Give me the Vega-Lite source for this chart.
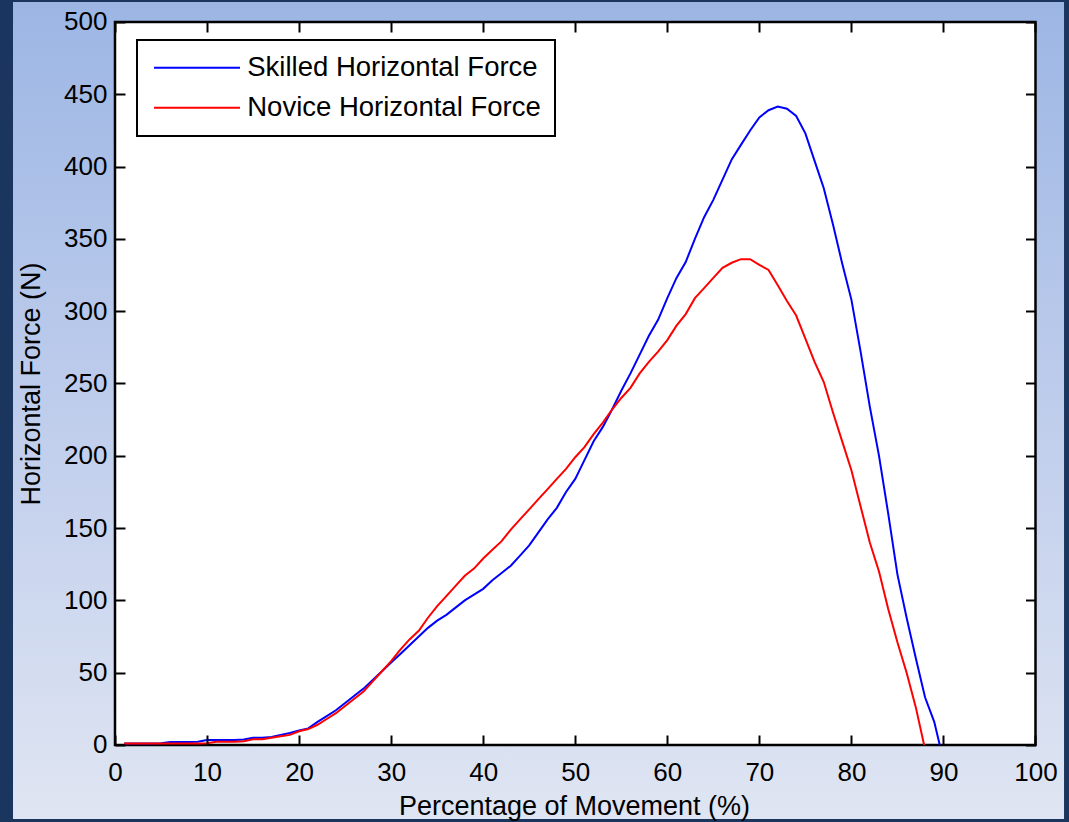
{
  "$schema": "https://vega.github.io/schema/vega-lite/v6.json",
  "width": 1069,
  "height": 822,
  "padding": 0,
  "autosize": {"type": "none"},
  "background": "#1b365e",
  "config": {"view": {"stroke": null}, "font": "Liberation Sans", "axis": {"zindex": 2}, "legend": {"strokeWidth": 2}},
  "resolve": {"axis": {"x": "independent", "y": "independent"}},
  "layer": [
    {
      "data": {"values": [{}]},
      "mark": {"type": "rect", "fill": {"gradient": "linear", "x1": 0, "y1": 0, "x2": 0, "y2": 1, "stops": [{"offset": 0, "color": "#9cb6e4"}, {"offset": 0.5, "color": "#bfcdec"}, {"offset": 1, "color": "#dfe5f2"}]}},
      "encoding": {
        "x": {"datum": -11.08, "type": "quantitative", "scale": {"domain": [-12.493, 103.64], "nice": false, "zero": false}, "axis": null},
        "x2": {"datum": 103.1},
        "y": {"datum": 513.8, "type": "quantitative", "scale": {"domain": [-53.25, 515.21], "nice": false, "zero": false}, "axis": null},
        "y2": {"datum": -51.2}
      }
    },
    {
      "data": {"values": [{}]},
      "mark": {"type": "rect", "fill": "white", "stroke": "black", "strokeWidth": 2.5},
      "encoding": {
        "x": {"datum": 0, "type": "quantitative", "scale": {"domain": [-12.493, 103.64], "nice": false, "zero": false},
          "axis": {"orient": "top", "offset": -22, "values": [0,10,20,30,40,50,60,70,80,90,100], "domain": false, "labels": false, "grid": false, "title": null, "ticks": true, "tickSize": -10, "tickColor": "black", "tickWidth": 2, "zindex": 2}},
        "x2": {"datum": 100},
        "y": {"datum": 0, "type": "quantitative", "scale": {"domain": [-53.25, 515.21], "nice": false, "zero": false},
          "axis": {"orient": "right", "offset": -33.5, "values": [0,50,100,150,200,250,300,350,400,450,500], "domain": false, "labels": false, "grid": false, "title": null, "ticks": true, "tickSize": -10, "tickColor": "black", "tickWidth": 2, "zindex": 2}},
        "y2": {"datum": 500}
      }
    },
    {
      "data": {"values": [
        {"pct": 1, "force": 1, "series": "Skilled Horizontal Force"},
        {"pct": 2, "force": 1, "series": "Skilled Horizontal Force"},
        {"pct": 3, "force": 1, "series": "Skilled Horizontal Force"},
        {"pct": 4, "force": 1, "series": "Skilled Horizontal Force"},
        {"pct": 5, "force": 1.2, "series": "Skilled Horizontal Force"},
        {"pct": 6, "force": 2, "series": "Skilled Horizontal Force"},
        {"pct": 7, "force": 2, "series": "Skilled Horizontal Force"},
        {"pct": 8, "force": 2, "series": "Skilled Horizontal Force"},
        {"pct": 9, "force": 2.2, "series": "Skilled Horizontal Force"},
        {"pct": 10, "force": 3.5, "series": "Skilled Horizontal Force"},
        {"pct": 11, "force": 3.5, "series": "Skilled Horizontal Force"},
        {"pct": 12, "force": 3.5, "series": "Skilled Horizontal Force"},
        {"pct": 13, "force": 3.5, "series": "Skilled Horizontal Force"},
        {"pct": 14, "force": 3.8, "series": "Skilled Horizontal Force"},
        {"pct": 15, "force": 5, "series": "Skilled Horizontal Force"},
        {"pct": 16, "force": 5, "series": "Skilled Horizontal Force"},
        {"pct": 17, "force": 5.6, "series": "Skilled Horizontal Force"},
        {"pct": 18, "force": 7, "series": "Skilled Horizontal Force"},
        {"pct": 19, "force": 8.3, "series": "Skilled Horizontal Force"},
        {"pct": 20, "force": 10, "series": "Skilled Horizontal Force"},
        {"pct": 21, "force": 11.5, "series": "Skilled Horizontal Force"},
        {"pct": 22, "force": 16, "series": "Skilled Horizontal Force"},
        {"pct": 23, "force": 20, "series": "Skilled Horizontal Force"},
        {"pct": 24, "force": 24, "series": "Skilled Horizontal Force"},
        {"pct": 25, "force": 29, "series": "Skilled Horizontal Force"},
        {"pct": 26, "force": 34, "series": "Skilled Horizontal Force"},
        {"pct": 27, "force": 39, "series": "Skilled Horizontal Force"},
        {"pct": 28, "force": 45, "series": "Skilled Horizontal Force"},
        {"pct": 29, "force": 51, "series": "Skilled Horizontal Force"},
        {"pct": 30, "force": 57, "series": "Skilled Horizontal Force"},
        {"pct": 31, "force": 63, "series": "Skilled Horizontal Force"},
        {"pct": 32, "force": 69, "series": "Skilled Horizontal Force"},
        {"pct": 33, "force": 75, "series": "Skilled Horizontal Force"},
        {"pct": 34, "force": 81, "series": "Skilled Horizontal Force"},
        {"pct": 35, "force": 86, "series": "Skilled Horizontal Force"},
        {"pct": 36, "force": 90, "series": "Skilled Horizontal Force"},
        {"pct": 37, "force": 95, "series": "Skilled Horizontal Force"},
        {"pct": 38, "force": 100, "series": "Skilled Horizontal Force"},
        {"pct": 39, "force": 104, "series": "Skilled Horizontal Force"},
        {"pct": 40, "force": 108, "series": "Skilled Horizontal Force"},
        {"pct": 41, "force": 114, "series": "Skilled Horizontal Force"},
        {"pct": 42, "force": 119, "series": "Skilled Horizontal Force"},
        {"pct": 43, "force": 124, "series": "Skilled Horizontal Force"},
        {"pct": 44, "force": 131, "series": "Skilled Horizontal Force"},
        {"pct": 45, "force": 138, "series": "Skilled Horizontal Force"},
        {"pct": 46, "force": 147, "series": "Skilled Horizontal Force"},
        {"pct": 47, "force": 156, "series": "Skilled Horizontal Force"},
        {"pct": 48, "force": 164, "series": "Skilled Horizontal Force"},
        {"pct": 49, "force": 175, "series": "Skilled Horizontal Force"},
        {"pct": 50, "force": 184, "series": "Skilled Horizontal Force"},
        {"pct": 51, "force": 197, "series": "Skilled Horizontal Force"},
        {"pct": 52, "force": 210, "series": "Skilled Horizontal Force"},
        {"pct": 53, "force": 220, "series": "Skilled Horizontal Force"},
        {"pct": 54, "force": 232, "series": "Skilled Horizontal Force"},
        {"pct": 55, "force": 245, "series": "Skilled Horizontal Force"},
        {"pct": 56, "force": 257, "series": "Skilled Horizontal Force"},
        {"pct": 57, "force": 270, "series": "Skilled Horizontal Force"},
        {"pct": 58, "force": 283, "series": "Skilled Horizontal Force"},
        {"pct": 59, "force": 294, "series": "Skilled Horizontal Force"},
        {"pct": 60, "force": 309, "series": "Skilled Horizontal Force"},
        {"pct": 61, "force": 323, "series": "Skilled Horizontal Force"},
        {"pct": 62, "force": 334, "series": "Skilled Horizontal Force"},
        {"pct": 63, "force": 350, "series": "Skilled Horizontal Force"},
        {"pct": 64, "force": 365, "series": "Skilled Horizontal Force"},
        {"pct": 65, "force": 377, "series": "Skilled Horizontal Force"},
        {"pct": 66, "force": 391, "series": "Skilled Horizontal Force"},
        {"pct": 67, "force": 405, "series": "Skilled Horizontal Force"},
        {"pct": 68, "force": 415, "series": "Skilled Horizontal Force"},
        {"pct": 69, "force": 425, "series": "Skilled Horizontal Force"},
        {"pct": 70, "force": 434, "series": "Skilled Horizontal Force"},
        {"pct": 71, "force": 439, "series": "Skilled Horizontal Force"},
        {"pct": 72, "force": 441.5, "series": "Skilled Horizontal Force"},
        {"pct": 73, "force": 440, "series": "Skilled Horizontal Force"},
        {"pct": 74, "force": 435, "series": "Skilled Horizontal Force"},
        {"pct": 75, "force": 423, "series": "Skilled Horizontal Force"},
        {"pct": 76, "force": 404, "series": "Skilled Horizontal Force"},
        {"pct": 77, "force": 385, "series": "Skilled Horizontal Force"},
        {"pct": 78, "force": 360, "series": "Skilled Horizontal Force"},
        {"pct": 79, "force": 333, "series": "Skilled Horizontal Force"},
        {"pct": 80, "force": 308, "series": "Skilled Horizontal Force"},
        {"pct": 81, "force": 272, "series": "Skilled Horizontal Force"},
        {"pct": 82, "force": 234, "series": "Skilled Horizontal Force"},
        {"pct": 83, "force": 200, "series": "Skilled Horizontal Force"},
        {"pct": 84, "force": 160, "series": "Skilled Horizontal Force"},
        {"pct": 85, "force": 118, "series": "Skilled Horizontal Force"},
        {"pct": 86, "force": 88, "series": "Skilled Horizontal Force"},
        {"pct": 87, "force": 60, "series": "Skilled Horizontal Force"},
        {"pct": 88, "force": 33, "series": "Skilled Horizontal Force"},
        {"pct": 89, "force": 16, "series": "Skilled Horizontal Force"},
        {"pct": 89.6, "force": 0, "series": "Skilled Horizontal Force"},
        {"pct": 1, "force": 1, "series": "Novice Horizontal Force"},
        {"pct": 2, "force": 1, "series": "Novice Horizontal Force"},
        {"pct": 3, "force": 1, "series": "Novice Horizontal Force"},
        {"pct": 4, "force": 1, "series": "Novice Horizontal Force"},
        {"pct": 5, "force": 1, "series": "Novice Horizontal Force"},
        {"pct": 6, "force": 1, "series": "Novice Horizontal Force"},
        {"pct": 7, "force": 1, "series": "Novice Horizontal Force"},
        {"pct": 8, "force": 1, "series": "Novice Horizontal Force"},
        {"pct": 9, "force": 1, "series": "Novice Horizontal Force"},
        {"pct": 10, "force": 1.2, "series": "Novice Horizontal Force"},
        {"pct": 11, "force": 2.3, "series": "Novice Horizontal Force"},
        {"pct": 12, "force": 2.3, "series": "Novice Horizontal Force"},
        {"pct": 13, "force": 2.3, "series": "Novice Horizontal Force"},
        {"pct": 14, "force": 2.6, "series": "Novice Horizontal Force"},
        {"pct": 15, "force": 4, "series": "Novice Horizontal Force"},
        {"pct": 16, "force": 4, "series": "Novice Horizontal Force"},
        {"pct": 17, "force": 5, "series": "Novice Horizontal Force"},
        {"pct": 18, "force": 6, "series": "Novice Horizontal Force"},
        {"pct": 19, "force": 7, "series": "Novice Horizontal Force"},
        {"pct": 20, "force": 9.5, "series": "Novice Horizontal Force"},
        {"pct": 21, "force": 11, "series": "Novice Horizontal Force"},
        {"pct": 22, "force": 14, "series": "Novice Horizontal Force"},
        {"pct": 23, "force": 18, "series": "Novice Horizontal Force"},
        {"pct": 24, "force": 22, "series": "Novice Horizontal Force"},
        {"pct": 25, "force": 27, "series": "Novice Horizontal Force"},
        {"pct": 26, "force": 32, "series": "Novice Horizontal Force"},
        {"pct": 27, "force": 37, "series": "Novice Horizontal Force"},
        {"pct": 28, "force": 44, "series": "Novice Horizontal Force"},
        {"pct": 29, "force": 51, "series": "Novice Horizontal Force"},
        {"pct": 30, "force": 58, "series": "Novice Horizontal Force"},
        {"pct": 31, "force": 66, "series": "Novice Horizontal Force"},
        {"pct": 32, "force": 73, "series": "Novice Horizontal Force"},
        {"pct": 33, "force": 79, "series": "Novice Horizontal Force"},
        {"pct": 34, "force": 88, "series": "Novice Horizontal Force"},
        {"pct": 35, "force": 96, "series": "Novice Horizontal Force"},
        {"pct": 36, "force": 103, "series": "Novice Horizontal Force"},
        {"pct": 37, "force": 110, "series": "Novice Horizontal Force"},
        {"pct": 38, "force": 117, "series": "Novice Horizontal Force"},
        {"pct": 39, "force": 122, "series": "Novice Horizontal Force"},
        {"pct": 40, "force": 129, "series": "Novice Horizontal Force"},
        {"pct": 41, "force": 135, "series": "Novice Horizontal Force"},
        {"pct": 42, "force": 141, "series": "Novice Horizontal Force"},
        {"pct": 43, "force": 149, "series": "Novice Horizontal Force"},
        {"pct": 44, "force": 156, "series": "Novice Horizontal Force"},
        {"pct": 45, "force": 163, "series": "Novice Horizontal Force"},
        {"pct": 46, "force": 170, "series": "Novice Horizontal Force"},
        {"pct": 47, "force": 177, "series": "Novice Horizontal Force"},
        {"pct": 48, "force": 184, "series": "Novice Horizontal Force"},
        {"pct": 49, "force": 191, "series": "Novice Horizontal Force"},
        {"pct": 50, "force": 199, "series": "Novice Horizontal Force"},
        {"pct": 51, "force": 206, "series": "Novice Horizontal Force"},
        {"pct": 52, "force": 215, "series": "Novice Horizontal Force"},
        {"pct": 53, "force": 223, "series": "Novice Horizontal Force"},
        {"pct": 54, "force": 232, "series": "Novice Horizontal Force"},
        {"pct": 55, "force": 240, "series": "Novice Horizontal Force"},
        {"pct": 56, "force": 247, "series": "Novice Horizontal Force"},
        {"pct": 57, "force": 257, "series": "Novice Horizontal Force"},
        {"pct": 58, "force": 265, "series": "Novice Horizontal Force"},
        {"pct": 59, "force": 272, "series": "Novice Horizontal Force"},
        {"pct": 60, "force": 280, "series": "Novice Horizontal Force"},
        {"pct": 61, "force": 290, "series": "Novice Horizontal Force"},
        {"pct": 62, "force": 298, "series": "Novice Horizontal Force"},
        {"pct": 63, "force": 309, "series": "Novice Horizontal Force"},
        {"pct": 64, "force": 316, "series": "Novice Horizontal Force"},
        {"pct": 65, "force": 323, "series": "Novice Horizontal Force"},
        {"pct": 66, "force": 330, "series": "Novice Horizontal Force"},
        {"pct": 67, "force": 333.5, "series": "Novice Horizontal Force"},
        {"pct": 68, "force": 336, "series": "Novice Horizontal Force"},
        {"pct": 69, "force": 336, "series": "Novice Horizontal Force"},
        {"pct": 70, "force": 332, "series": "Novice Horizontal Force"},
        {"pct": 71, "force": 328.5, "series": "Novice Horizontal Force"},
        {"pct": 72, "force": 318, "series": "Novice Horizontal Force"},
        {"pct": 73, "force": 307, "series": "Novice Horizontal Force"},
        {"pct": 74, "force": 297, "series": "Novice Horizontal Force"},
        {"pct": 75, "force": 281, "series": "Novice Horizontal Force"},
        {"pct": 76, "force": 265, "series": "Novice Horizontal Force"},
        {"pct": 77, "force": 251, "series": "Novice Horizontal Force"},
        {"pct": 78, "force": 230, "series": "Novice Horizontal Force"},
        {"pct": 79, "force": 210, "series": "Novice Horizontal Force"},
        {"pct": 80, "force": 190, "series": "Novice Horizontal Force"},
        {"pct": 81, "force": 165, "series": "Novice Horizontal Force"},
        {"pct": 82, "force": 140, "series": "Novice Horizontal Force"},
        {"pct": 83, "force": 120, "series": "Novice Horizontal Force"},
        {"pct": 84, "force": 94, "series": "Novice Horizontal Force"},
        {"pct": 85, "force": 71, "series": "Novice Horizontal Force"},
        {"pct": 86, "force": 50, "series": "Novice Horizontal Force"},
        {"pct": 87, "force": 26, "series": "Novice Horizontal Force"},
        {"pct": 87.9, "force": 0, "series": "Novice Horizontal Force"}
      ]},
      "mark": {"type": "line", "strokeWidth": 2},
      "encoding": {
        "x": {"field": "pct", "type": "quantitative", "scale": {"domain": [-12.493, 103.64], "nice": false, "zero": false},
          "axis": {"orient": "bottom", "offset": -77, "values": [0,10,20,30,40,50,60,70,80,90,100], "domain": false, "grid": false, "zindex": 2,
            "ticks": true, "tickSize": -10, "tickColor": "black", "tickWidth": 2,
            "labelFontSize": 26, "labelColor": "black", "labelPadding": 24, "labelFlush": false, "labelOverlap": false,
            "title": "Percentage of Movement (%)", "titleFontSize": 27, "titleFontWeight": "normal", "titleColor": "black",
            "titleX": 574, "titleY": 69, "titleBaseline": "alphabetic", "titleAnchor": "middle"}},
        "y": {"field": "force", "type": "quantitative", "scale": {"domain": [-53.25, 515.21], "nice": false, "zero": false},
          "axis": {"orient": "left", "offset": -115, "values": [0,50,100,150,200,250,300,350,400,450,500], "domain": false, "grid": false, "zindex": 2,
            "ticks": true, "tickSize": -10, "tickColor": "black", "tickWidth": 2,
            "labelFontSize": 26, "labelColor": "black", "labelPadding": 18, "labelFlush": false, "labelOverlap": false,
            "title": "Horizontal Force (N)", "titleFontSize": 27, "titleFontWeight": "normal", "titleColor": "black",
            "titleX": -75.5, "titleY": 383.5, "titleBaseline": "alphabetic", "titleAnchor": "middle"}},
        "color": {"field": "series", "type": "nominal",
          "scale": {"domain": ["Skilled Horizontal Force", "Novice Horizontal Force"], "range": ["#0000ff", "#ff0000"]},
          "legend": {"title": null, "orient": "none", "legendX": 137, "legendY": 40,
            "fillColor": "white", "strokeColor": "black", "padding": 14,
            "symbolType": "M-4,0L4,0", "symbolSize": 462, "symbolStrokeWidth": 2, "symbolOffset": 32.25,
            "labelOffset": 36.5, "labelFontSize": 27.5, "labelColor": "black", "labelLimit": 0, "rowPadding": 11}}
      }
    }
  ]
}
